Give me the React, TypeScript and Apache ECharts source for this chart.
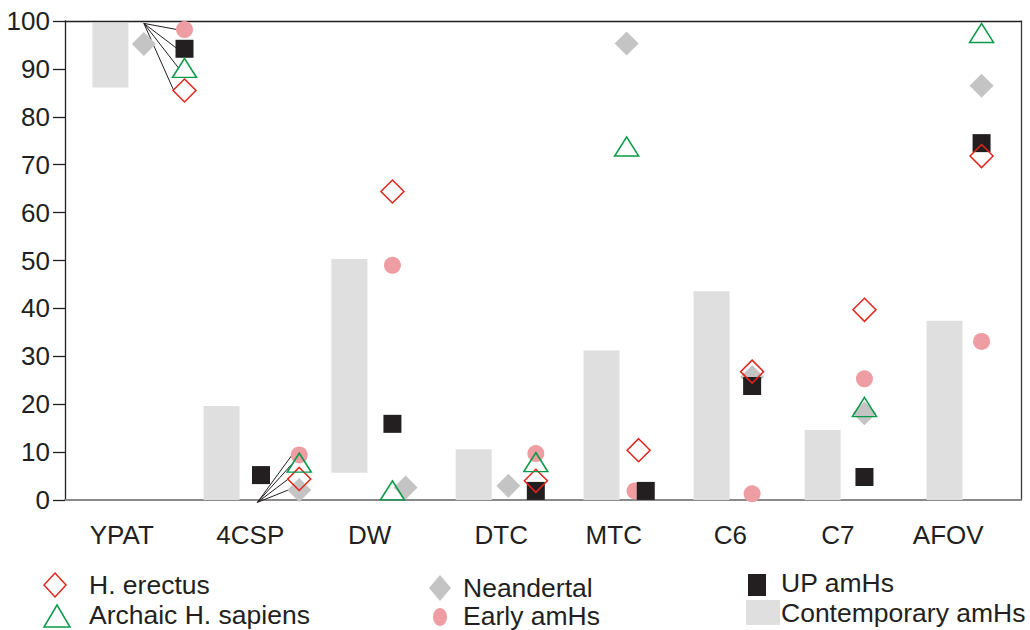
import React, { useEffect, useRef } from "react";
import * as echarts from "echarts";

// Sites along the x axis
const categories = ["YPAT", "4CSP", "DW", "DTC", "MTC", "C6", "C7", "AFOV"];

// Contemporary amHs range (low / high) per site
const contemporaryLow = [86.1, 0, 5.7, 0, 0, 0, 0, 0];
const contemporaryHigh = [99.6, 19.6, 50.3, 10.6, 31.2, 43.6, 14.6, 37.4];

// Group values per site (null = not present)
const hErectus = [85.5, 4.4, 64.4, 4.0, 10.4, 26.8, 39.7, 71.8];
const archaic = [90.2, 7.8, 2.0, 7.9, 73.8, null, 19.4, 97.5];
const neandertal = [95.2, 2.1, 2.6, 3.0, 95.3, 25.7, 18.1, 86.5];
const earlyAmHs = [98.2, 9.4, 49.0, 9.7, 1.9, 1.3, 25.3, 33.1];
const upAmHs = [94.2, 5.2, 15.9, 1.9, 1.9, 23.8, 4.8, 74.5];

const yTicks = [0, 100, 10]; // min, max, interval

// Layout: horizontal placement inside each category band (in band units)
const barShift = [-0.12, -0.19, -0.12, -0.08, -0.01, -0.09, -0.16, -0.14];
const markShift = [0.5, 0.46, 0.24, 0.44, 0.2, 0.25, 0.19, 0.17];
const erectusNudge = [0, 0, 0, 0, 0.1, 0, 0, 0];
const archaicNudge = [0, 0, 0, 0, 0, 0, 0, 0];
const neandertalNudge = [-0.34, 0, 0.11, -0.23, 0, 0, 0, 0];
const earlyNudge = [0, 0, 0, 0, 0.07, 0, 0, 0];
const upNudge = [0, -0.32, 0, 0, 0.16, 0, 0, 0];
// Category label nudges in px (positive = right)
const labelShift = [-3, 6, 6, 18, 11, 8, -4, -13];

const FONT = "'Liberation Sans', Arial, sans-serif";
const INK = "#231f20";
const RED = "#e3251c";
const GREEN = "#0a9a48";
const GREY_D = "#c4c4c4";
const PINK = "#ee9ea3";
const BAR = "#dfdfdf";

const xPos = (i: number, nudge: number[]) => i + 0.5 + markShift[i] + nudge[i];

const points = (vals: (number | null)[], nudge: number[]) =>
  vals
    .map((v, i) => (v == null ? null : [xPos(i, nudge), v]))
    .filter((p) => p !== null);

// Fan of leader lines from a shared origin to displaced markers
const fanDefs = [
  { cat: 0, originShift: 0.16, from: 99.5, targets: [[earlyAmHs, earlyNudge, 0.06], [upAmHs, upNudge, 0.06], [archaic, archaicNudge, 0.05], [hErectus, erectusNudge, 0.09]] },
  { cat: 1, originShift: 0.11, from: -0.5, targets: [[earlyAmHs, earlyNudge, 0.06], [archaic, archaicNudge, 0.05], [hErectus, erectusNudge, 0.09], [neandertal, neandertalNudge, 0.09]] },
];

export default function App() {
  const ref = useRef<HTMLDivElement>(null);

  useEffect(() => {
    if (!ref.current) return;
    const chart = echarts.init(ref.current, undefined, { renderer: "svg" });

    const barData = categories.map((_, i) => [i, contemporaryLow[i], contemporaryHigh[i]]);

    const leaderData: number[][] = [];
    fanDefs.forEach((f) => {
      const ox = f.cat + 0.5 + f.originShift;
      f.targets.forEach(([vals, nudge, gap]: any) => {
        const v = vals[f.cat];
        if (v == null) return;
        leaderData.push([ox, f.from, xPos(f.cat, nudge) - gap, v]);
      });
    });

    const hollow = (c: string) => ({ color: "rgba(0,0,0,0)", borderColor: c, borderWidth: 1.5, opacity: 1 });

    const legendText = (x: number, y: number, text: string) => ({
      type: "text",
      x,
      y,
      style: { text, fill: INK, font: `26.5px ${FONT}`, align: "left", verticalAlign: "middle" },
    });

    const labelRich: Record<string, any> = {};
    labelShift.forEach((s, i) => {
      labelRich["s" + i] = {
        fontSize: 26,
        color: INK,
        fontFamily: FONT,
        padding: s >= 0 ? [0, 0, 0, 2 * s] : [0, -2 * s, 0, 0],
      };
    });

    chart.setOption({
      animation: false,
      backgroundColor: "#ffffff",
      grid: { left: 65, right: 9, top: 21, bottom: 130 },
      xAxis: [
        {
          type: "category",
          data: categories,
          position: "bottom",
          boundaryGap: true,
          axisLine: { show: true, onZero: false, lineStyle: { color: "#8a8a8a", width: 2 } },
          axisTick: { show: false },
          axisLabel: {
            fontSize: 26,
            color: INK,
            fontFamily: FONT,
            margin: 22,
            interval: 0,
            formatter: (v: string, i: number) => `{s${i}|${v}}`,
            rich: labelRich,
          },
          splitLine: { show: false },
        },
        {
          type: "value",
          position: "top",
          min: 0,
          max: 8,
          axisLine: { show: true, onZero: false, lineStyle: { color: INK, width: 1.3 } },
          axisTick: { show: false },
          axisLabel: { show: false },
          splitLine: { show: false },
        },
      ],
      yAxis: [
        {
          type: "value",
          position: "left",
          min: yTicks[0],
          max: yTicks[1],
          interval: yTicks[2],
          axisLine: { show: true, onZero: false, lineStyle: { color: INK, width: 1.3 } },
          axisTick: { show: true, length: 12, lineStyle: { color: INK, width: 1.3 } },
          axisLabel: { fontSize: 26, color: INK, fontFamily: FONT, margin: 15 },
          splitLine: { show: false },
        },
        {
          type: "value",
          position: "right",
          min: yTicks[0],
          max: yTicks[1],
          axisLine: { show: true, onZero: false, lineStyle: { color: "#3a3a3a", width: 1.3 } },
          axisTick: { show: false },
          axisLabel: { show: false },
          splitLine: { show: false },
        },
      ],
      series: [
        {
          name: "Contemporary amHs",
          type: "custom",
          xAxisIndex: 1,
          yAxisIndex: 0,
          encode: { x: 0, y: [1, 2] },
          data: barData,
          renderItem: (_p: any, api: any) => {
            const i = api.value(0);
            const x = i + 0.5 + barShift[i];
            const top = api.coord([x, api.value(2)]);
            const bot = api.coord([x, api.value(1)]);
            return {
              type: "rect",
              shape: { x: top[0] - 18, y: top[1], width: 36, height: bot[1] - top[1] },
              style: { fill: BAR },
            };
          },
          z: 1,
        },
        {
          name: "leaders",
          type: "custom",
          xAxisIndex: 1,
          yAxisIndex: 0,
          encode: { x: [0, 2], y: [1, 3] },
          data: leaderData,
          renderItem: (_p: any, api: any) => {
            const a = api.coord([api.value(0), api.value(1)]);
            const b = api.coord([api.value(2), api.value(3)]);
            return {
              type: "line",
              shape: { x1: a[0], y1: a[1], x2: b[0], y2: b[1] },
              style: { stroke: INK, lineWidth: 1 },
            };
          },
          z: 2,
        },
        {
          name: "Neandertal",
          type: "scatter",
          xAxisIndex: 1,
          symbol: "diamond",
          symbolSize: 24,
          itemStyle: { color: GREY_D, opacity: 1 },
          data: points(neandertal, neandertalNudge),
          z: 3,
        },
        {
          name: "Early amHs",
          type: "scatter",
          xAxisIndex: 1,
          symbol: "circle",
          symbolSize: 17,
          itemStyle: { color: PINK, opacity: 1 },
          data: points(earlyAmHs, earlyNudge),
          z: 3,
        },
        {
          name: "UP amHs",
          type: "scatter",
          xAxisIndex: 1,
          symbol: "rect",
          symbolSize: 18,
          itemStyle: { color: INK, opacity: 1 },
          data: points(upAmHs, upNudge),
          z: 3,
        },
        {
          name: "H. erectus",
          type: "scatter",
          xAxisIndex: 1,
          symbol: "diamond",
          symbolSize: 23,
          itemStyle: hollow(RED),
          data: points(hErectus, erectusNudge),
          z: 3,
        },
        {
          name: "Archaic H. sapiens",
          type: "scatter",
          xAxisIndex: 1,
          symbol: "triangle",
          symbolSize: [24, 19],
          itemStyle: hollow(GREEN),
          data: points(archaic, archaicNudge),
          z: 3,
        },
      ],
      graphic: [
        // column 1
        { type: "polygon", shape: { points: [[55, 573], [66, 585], [55, 597], [44, 585]] }, style: { fill: "none", stroke: RED, lineWidth: 1.5 } },
        legendText(89, 585, "H. erectus"),
        { type: "polygon", shape: { points: [[57, 605], [70, 627], [44, 627]] }, style: { fill: "none", stroke: GREEN, lineWidth: 1.5 } },
        legendText(89, 615, "Archaic H. sapiens"),
        // column 2
        { type: "polygon", shape: { points: [[440, 575], [451, 588], [440, 601], [429, 588]] }, style: { fill: GREY_D } },
        legendText(463, 588, "Neandertal"),
        { type: "ellipse", shape: { cx: 440, cy: 617, rx: 7, ry: 9 }, style: { fill: PINK } },
        legendText(463, 616, "Early amHs"),
        // column 3
        { type: "rect", shape: { x: 748, y: 574, width: 18, height: 22 }, style: { fill: INK } },
        legendText(781, 583, "UP amHs"),
        { type: "rect", shape: { x: 746, y: 600, width: 34, height: 25 }, style: { fill: BAR } },
        legendText(781, 613, "Contemporary amHs"),
      ],
    });

    return () => chart.dispose();
  }, []);

  return <div ref={ref} style={{ width: 1030, height: 630, position: "absolute", left: 0, top: 0 }} />;
}
